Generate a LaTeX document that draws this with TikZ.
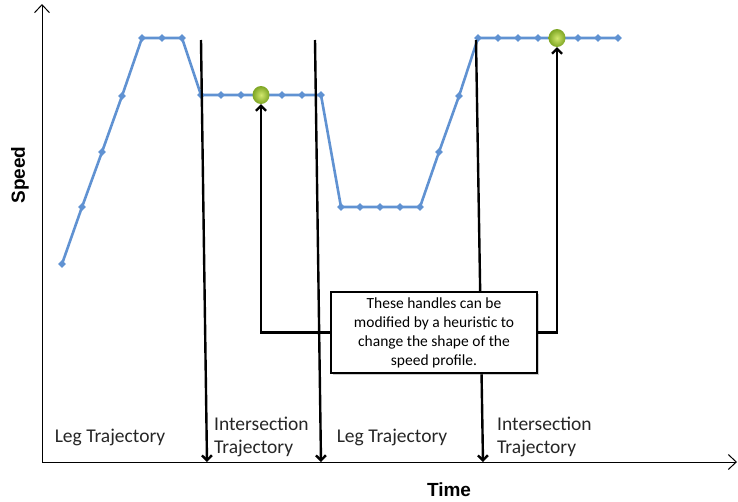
\documentclass[tikz,border=0pt]{standalone}
\usepackage{fontspec}
\setmainfont{Carlito}
\newfontfamily\axisfont{Liberation Sans}
\usetikzlibrary{arrows.meta}
\usetikzlibrary{shapes.geometric}
\usetikzlibrary{shadows}

\definecolor{profileblue}{RGB}{96,146,210}
\definecolor{handlelight}{RGB}{210,232,110}
\definecolor{handledark}{RGB}{125,165,35}

\begin{document}
\begin{tikzpicture}[x=1pt, y=-1pt,
    axis/.style={line width=1pt, -{Straight Barb[length=8pt, width=15pt]}},
    bound/.style={line width=2.4pt, -{Straight Barb[length=5pt, width=10pt]}},
    handlearrow/.style={line width=2.2pt, -{Straight Barb[length=5pt, width=10pt]}},
    dot/.style={diamond, fill=profileblue, inner sep=0pt, minimum size=8pt},
    handle/.style={ellipse, inner color=handlelight, outer color=handledark, inner sep=0pt, minimum width=17pt, minimum height=18pt},
    phase/.style={font=\fontsize{19.5}{23}\selectfont, text=black!85, inner sep=0pt, align=left},
    note/.style={draw, line width=1.5pt, fill=white, drop shadow={shadow xshift=1.5pt, shadow yshift=-1.5pt, opacity=0.4},
        font=\fontsize{15.5}{19}\selectfont, align=center, minimum width=206pt, minimum height=81pt}]
    \useasboundingbox (0,0) rectangle (738,501);

    % axes
    \coordinate (O) at (42,462);
    \coordinate (Ytop) at (42,4);
    \coordinate (Xend) at (737,462);
    \draw [axis] (O) -- (Ytop);
    \draw [axis] (O) -- (Xend);
    \node (Speed) at (20,175) [rotate=90, font=\axisfont\bfseries\fontsize{19}{19}\selectfont] {Speed};
    \node (Time) at (449,490) [font=\axisfont\bfseries\fontsize{19}{19}\selectfont] {Time};

    % speed profile
    \foreach \x/\y [count=\i] in {62/264, 82/207, 102/152, 122/96, 142/38, 162/38, 182/38,
        201/95, 221/95, 241/95, 261/95, 282/95, 302/95, 321/95,
        341/207, 360/207, 380/207, 400/207, 420/207, 439/152, 459/96,
        478/38, 498/38, 518/38, 538/38, 557/38, 578/38, 598/38, 618/38}
        \coordinate (p\i) at (\x,\y);
    \draw [profileblue, line width=2.6pt, line join=round]
        (p1) \foreach \i in {2,...,29} { -- (p\i) };
    \foreach \i in {1,...,29} \node [dot] (d\i) at (p\i) {};

    % trajectory bounds
    \coordinate (T1) at (201,40); \coordinate (B1) at (207,462);
    \coordinate (T2) at (315,40); \coordinate (B2) at (321,462);
    \coordinate (T3) at (476,40); \coordinate (B3) at (483,462);
    \draw [bound] (T1) -- (B1);
    \draw [bound] (T2) -- (B2);
    \draw [bound] (T3) -- (B3);

    % handles
    \node (H1) at (p11) [handle] {};
    \node (H2) at (p26) [handle] {};
    \node (Note) at (434,332.5) [note] {These handles can be\\ modified by a heuristic to\\ change the shape of the\\ speed profile.};
    \draw [handlearrow] (Note.west) -| (H1.south);
    \draw [handlearrow] (Note.east) -| (H2.south);

    % phase labels
    \node (Leg1) at (110,437) [phase] {Leg Trajectory};
    \node (Int1) at (214,437) [phase, anchor=west] {Intersection\\Trajectory};
    \node (Leg2) at (392,437) [phase] {Leg Trajectory};
    \node (Int2) at (497,437) [phase, anchor=west] {Intersection\\Trajectory};
\end{tikzpicture}
\end{document}
